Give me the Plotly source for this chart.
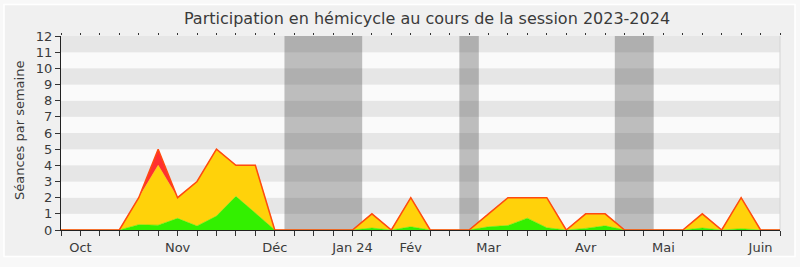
import plotly.graph_objects as go

# Week index along the session (0..37)
weeks = list(range(38))

# Séances per week, split in three stacked layers
green = [0, 0, 0, 0, 0.33, 0.3, 0.72, 0.25, 0.86, 2.08, 1.05, 0,
         0, 0, 0, 0, 0.12, 0, 0.2, 0, 0, 0, 0.2, 0.28, 0.73, 0.14,
         0, 0.1, 0.26, 0, 0, 0, 0, 0.12, 0, 0.08, 0, 0]
total_yellow = [0, 0, 0, 0, 2, 4, 2, 3, 5, 4, 4, 0,
                0, 0, 0, 0, 1, 0, 2, 0, 0, 0, 1, 2, 2, 2,
                0, 1, 1, 0, 0, 0, 0, 1, 0, 2, 0, 0]
red = [0, 0, 0, 0, 0, 1, 0, 0, 0, 0, 0, 0,
       0, 0, 0, 0, 0, 0, 0, 0, 0, 0, 0, 0, 0, 0,
       0, 0, 0, 0, 0, 0, 0, 0, 0, 0, 0, 0]
yellow = [t - g for t, g in zip(total_yellow, green)]

month_pos = [1, 6, 11, 15, 18, 22, 27, 31, 36]
month_labels = ["Oct", "Nov", "Déc", "Jan 24", "Fév", "Mar", "Avr", "Mai", "Juin"]

vacations = [(11.5, 15.5), (20.5, 21.5), (28.5, 30.5)]

ticktext = []
for w in weeks:
    ticktext.append(month_labels[month_pos.index(w)] if w in month_pos else "")

FONT = "DejaVu Sans"
TXT = "#3a3a3a"

fig = go.Figure()
fig.add_trace(go.Scatter(x=weeks, y=green, stackgroup="s", mode="lines",
                         line=dict(color="#33F000", width=0.5),
                         fillcolor="#33F000", hoverinfo="skip"))
fig.add_trace(go.Scatter(x=weeks, y=yellow, stackgroup="s", mode="lines",
                         line=dict(color="#FFD20A", width=0.5),
                         fillcolor="#FFD20A", hoverinfo="skip"))
fig.add_trace(go.Scatter(x=weeks, y=red, stackgroup="s", mode="lines",
                         line=dict(color="#FF4A10", width=1.5),
                         fillcolor="#FF3030", hoverinfo="skip"))
fig.add_trace(go.Scatter(x=[None], y=[None], xaxis="x2", showlegend=False,
                         hoverinfo="skip"))

shapes = []
# outer rounded panel
shapes.append(dict(type="rect", xref="paper", yref="paper",
                   x0=(4 - 61) / 719, x1=(795 - 61) / 719,
                   y0=(233 - 260) / 197, y1=(233 - 4) / 197,
                   fillcolor="#F0F0F0", line=dict(color="#FFFFFF", width=1.5),
                   layer="below"))
for k in range(12):
    shapes.append(dict(type="rect", xref="paper", yref="y", x0=0, x1=1,
                       y0=k, y1=k + 1,
                       fillcolor="#E6E6E6" if k % 2 == 1 else "#FAFAFA",
                       line=dict(width=0), layer="below"))
for a, b in vacations:
    shapes.append(dict(type="rect", xref="x", yref="y", x0=a, x1=b, y0=0, y1=12,
                       fillcolor="rgba(50,50,50,0.3)", line=dict(width=0),
                       layer="below"))
shapes.append(dict(type="line", xref="paper", yref="y", x0=1, x1=1, y0=0, y1=12,
                   line=dict(color="#D4D4D4", width=1), layer="below"))

fig.update_layout(
    width=800, height=267,
    margin=dict(l=61, r=20, t=36, b=34),
    paper_bgcolor="#F8F8F8", plot_bgcolor="#FAFAFA",
    showlegend=False,
    font=dict(family=FONT, size=13, color=TXT),
    title=dict(text="Participation en hémicycle au cours de la session 2023-2024",
               x=(427 - 61) / 719, xref="paper", xanchor="center",
               y=1 - 18 / 267, yref="container", yanchor="middle",
               font=dict(family=FONT, size=16, color=TXT)),
    xaxis=dict(range=[0, 37], tickmode="array", tickvals=weeks, ticktext=ticktext,
               ticks="outside", ticklen=5, tickcolor="#333", showgrid=False,
               zeroline=False, showline=True, linecolor="#222", linewidth=1,
               tickfont=dict(size=13, color=TXT)),
    xaxis2=dict(range=[0, 37], overlaying="x", side="top", tickmode="array",
                tickvals=weeks, ticks="outside", ticklen=2, tickcolor="#333",
                showticklabels=False, showgrid=False, zeroline=False,
                showline=False),
    yaxis=dict(range=[0, 12], tickmode="array", tickvals=list(range(13)),
               ticks="outside", ticklen=5, tickcolor="#333", showgrid=False,
               zeroline=False, showline=True, linecolor="#222", linewidth=1,
               tickfont=dict(size=13, color=TXT)),
    shapes=shapes,
    annotations=[dict(text="Séances par semaine", xref="paper", yref="paper",
                      x=(19 - 61) / 719, y=(233 - 132.5) / 197, textangle=-90,
                      showarrow=False, xanchor="center", yanchor="middle",
                      font=dict(family=FONT, size=13, color=TXT))],
)

fig.write_html("out.html")
